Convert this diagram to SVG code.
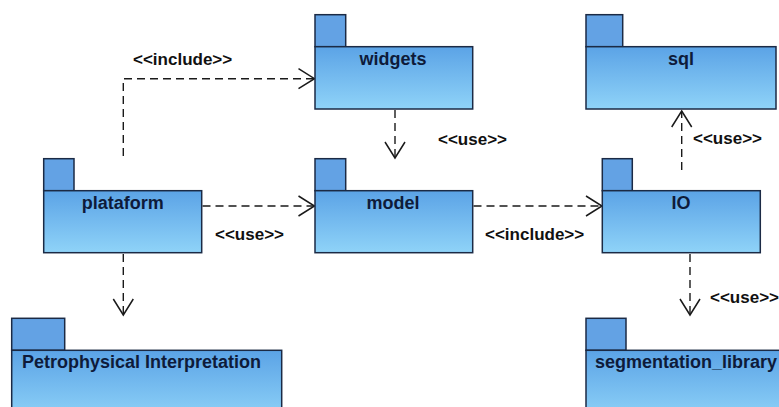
<svg xmlns="http://www.w3.org/2000/svg" width="779" height="407" viewBox="0 0 779 407">
<defs>
<linearGradient id="body" x1="0" y1="0" x2="0" y2="1">
<stop offset="0" stop-color="#5ba3e6"/>
<stop offset="1" stop-color="#8fd3f8"/>
</linearGradient>
<path id="ah" d="M -16 -10 L 0 0 L -16 10" fill="none" stroke="#1a1a1a" stroke-width="1.5"/>
<style>
.tab{fill:#63a2e4;stroke:#1b2a45;stroke-width:1.5}
.bd{fill:url(#body);stroke:#1b2a45;stroke-width:1.5}
.nm{font-family:"Liberation Sans",Arial,sans-serif;font-weight:bold;font-size:18px;fill:#0e1b3a}
.lb{font-family:"Liberation Sans",Arial,sans-serif;font-weight:bold;font-size:17px;fill:#111}
.dep{fill:none;stroke:#1a1a1a;stroke-width:1.4;stroke-dasharray:8 5}
</style>
</defs>
<rect width="779" height="407" fill="#ffffff"/>
<g id="connectors">
<path class="dep" d="M123.3 156 V78.7 H314"/>
<use href="#ah" transform="translate(314.5 78.7)"/>
<path class="dep" d="M395 110 V158"/>
<use href="#ah" transform="translate(395 158) rotate(90)"/>
<path class="dep" d="M202.5 206 H314"/>
<use href="#ah" transform="translate(314.5 206)"/>
<path class="dep" d="M473.5 206 H601.5"/>
<use href="#ah" transform="translate(602 206)"/>
<path class="dep" d="M681.7 170 V111"/>
<use href="#ah" transform="translate(681.7 111) rotate(-90)"/>
<path class="dep" d="M690 254 V315"/>
<use href="#ah" transform="translate(690 315) rotate(90)"/>
<path class="dep" d="M123.3 254 V315"/>
<use href="#ah" transform="translate(123.3 315) rotate(90)"/>
<text class="lb" x="133" y="65">&lt;&lt;include&gt;&gt;</text>
<text class="lb" x="438" y="145">&lt;&lt;use&gt;&gt;</text>
<text class="lb" x="215" y="240">&lt;&lt;use&gt;&gt;</text>
<text class="lb" x="485" y="240">&lt;&lt;include&gt;&gt;</text>
<text class="lb" x="693" y="144">&lt;&lt;use&gt;&gt;</text>
<text class="lb" x="710" y="303">&lt;&lt;use&gt;&gt;</text>
</g>
<g id="widgets">
<rect class="tab" x="315" y="14.7" width="30.7" height="32"/>
<rect class="bd" x="315" y="46.7" width="157.7" height="62.3"/>
<text class="nm" x="393" y="65" text-anchor="middle">widgets</text>
</g>
<g id="sql">
<rect class="tab" x="586" y="14.7" width="36.7" height="32"/>
<rect class="bd" x="586" y="46.7" width="190" height="62.3"/>
<text class="nm" x="681" y="65" text-anchor="middle">sql</text>
</g>
<g id="plataform">
<rect class="tab" x="43.7" y="158.7" width="30.3" height="32"/>
<rect class="bd" x="43.7" y="190.7" width="158" height="62"/>
<text class="nm" x="122.7" y="209" text-anchor="middle">plataform</text>
</g>
<g id="model">
<rect class="tab" x="315" y="158.7" width="30.7" height="32"/>
<rect class="bd" x="315" y="190.7" width="157.7" height="62"/>
<text class="nm" x="393" y="209" text-anchor="middle">model</text>
</g>
<g id="IO">
<rect class="tab" x="602.3" y="158.7" width="30" height="32"/>
<rect class="bd" x="602.3" y="190.7" width="158" height="62"/>
<text class="nm" x="681" y="209" text-anchor="middle">IO</text>
</g>
<g id="petrophysical">
<rect class="tab" x="11.7" y="318.3" width="53" height="32"/>
<rect class="bd" x="11.7" y="350.3" width="270" height="70"/>
<text class="nm" x="22" y="368.3">Petrophysical Interpretation</text>
</g>
<g id="segmentation_library">
<rect class="tab" x="586" y="318.3" width="40" height="32"/>
<rect class="bd" x="586" y="350.3" width="210" height="70"/>
<text class="nm" x="595" y="368.3">segmentation_library</text>
</g>
</svg>
